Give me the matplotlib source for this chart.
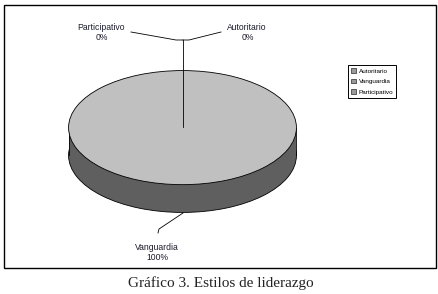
import matplotlib.pyplot as plt
from matplotlib.patches import Rectangle, Patch

# Datos del gráfico
categorias = ['Autoritario', 'Vanguardia', 'Participativo']
valores = [0, 100, 0]
porcentajes = ['0%', '100%', '0%']

color_sup = '#c0c0c0'
color_lado = '#5f5f5f'

fig = plt.figure(figsize=(4.39, 2.94), dpi=100)
fig.patch.set_facecolor('white')

# Ejes del pastel (elipse 3D): x 68..297 px, y 70..213 px
prof = 28 / 57.5
ax_pie = fig.add_axes([68 / 439, (294 - 213) / 294, 229 / 439, 143 / 294])
base, _ = ax_pie.pie(valores, colors=[color_lado] * 3, startangle=90,
                     counterclock=False, center=(0, -prof), radius=1,
                     wedgeprops=dict(edgecolor='black', linewidth=0.6))
ax_pie.add_patch(Rectangle((-1, -prof), 2, prof, facecolor=color_lado,
                           edgecolor='none', zorder=1.5))
ax_pie.plot([-1, -1], [0, -prof], color='black', lw=0.6, zorder=1.6)
ax_pie.plot([1, 1], [0, -prof], color='black', lw=0.6, zorder=1.6)
wedges, _ = ax_pie.pie(valores, colors=[color_sup] * 3, startangle=90,
                       counterclock=False, radius=1,
                       wedgeprops=dict(edgecolor='black', linewidth=0.6))
for w, b, v in zip(wedges, base, valores):
    w.set_zorder(2)
    if v == 0:
        # las porciones vacías no dibujan borde
        w.set_linewidth(0)
        b.set_linewidth(0)
ax_pie.set_aspect('auto')
ax_pie.set_xlim(-1.005, 1.005)
ax_pie.set_ylim(-1 - prof - 0.01, 1.01)
ax_pie.axis('off')

# Ejes en píxeles para marco, etiquetas y líneas guía
ax = fig.add_axes([0, 0, 1, 1], facecolor='none')
ax.set_xlim(0, 439)
ax.set_ylim(294, 0)
ax.axis('off')

ax.add_patch(Rectangle((4, 5), 432, 263, fill=False, edgecolor='black', lw=1))

txt = dict(fontsize=6.2, family='Liberation Sans', color='#1c1c2c',
           ha='center', va='center')
# líneas guía
ax.plot([183, 183], [127, 40], color='black', lw=0.6)
ax.plot([131, 176, 183], [32, 40, 40], color='black', lw=0.6)
ax.plot([183, 189, 221], [40, 40, 32], color='black', lw=0.6)
ax.plot([183, 159, 158], [213, 229, 233], color='black', lw=0.6)

ax.text(101, 28, categorias[2], **txt)
ax.text(102, 37.5, porcentajes[2], **txt)
ax.text(247, 28, categorias[0], **txt)
ax.text(248, 37.5, porcentajes[0], **txt)
ax.text(157, 248, categorias[1], **txt)
ax.text(157, 257.5, porcentajes[1], **txt)

# Leyenda
handles = [Patch(facecolor='#9a9a9a', edgecolor='black', linewidth=0.4)
           for _ in categorias]
leg = fig.legend(handles, categorias, loc='upper left',
                 bbox_to_anchor=(345 / 439, 1 - 62 / 294),
                 prop={'family': 'Liberation Sans', 'size': 4.6},
                 fancybox=False, edgecolor='black', framealpha=1,
                 handlelength=0.8, handleheight=0.8, handletextpad=0.4,
                 labelspacing=0.75, borderpad=0.45)
leg.get_frame().set_linewidth(0.7)

# Título inferior
ax.text(221, 283, 'Gráfico 3. Estilos de liderazgo', fontsize=11,
        family='Liberation Serif', color='#222222', ha='center', va='center')

fig.savefig('out.png', dpi=100)
